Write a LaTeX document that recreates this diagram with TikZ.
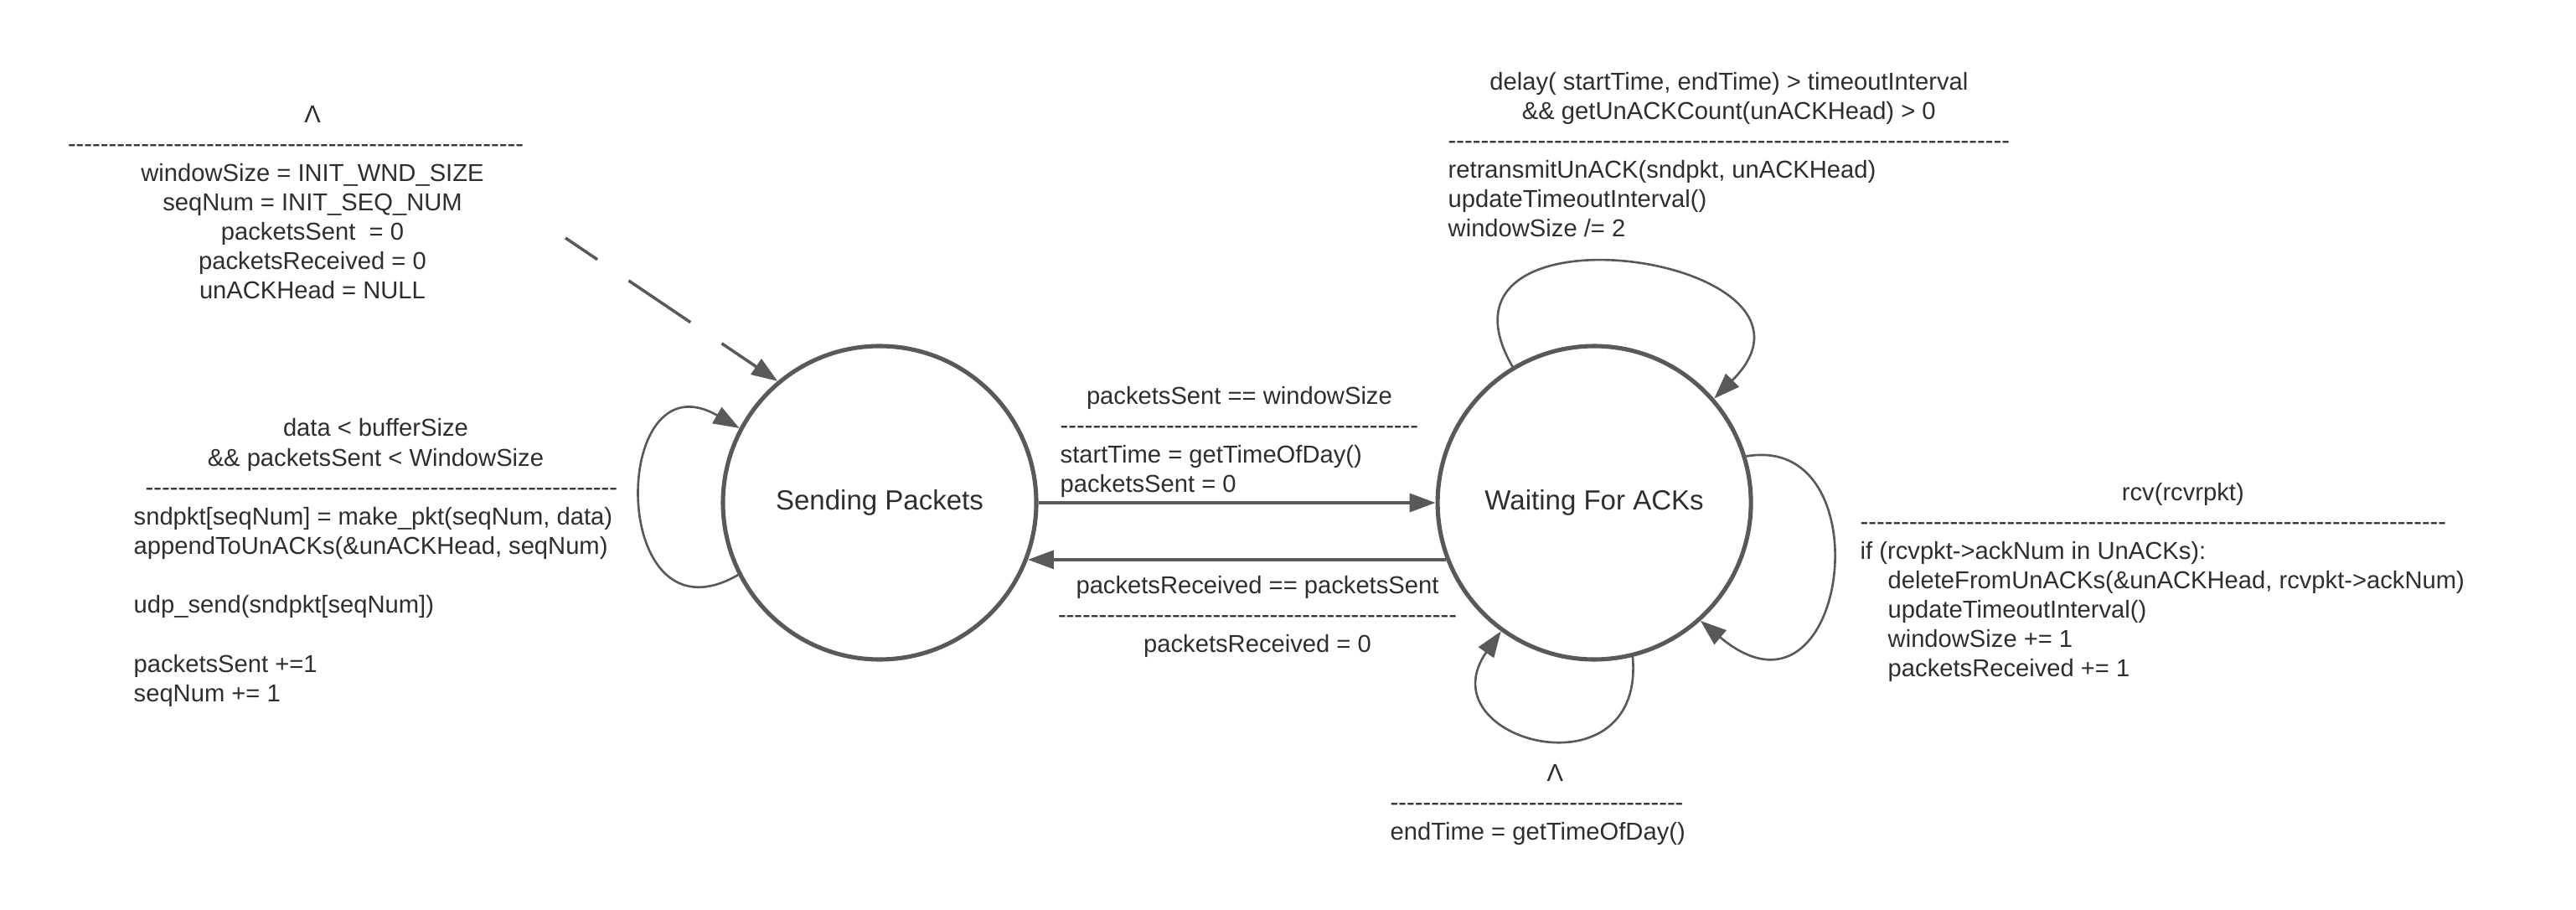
\documentclass[tikz,border=0pt]{standalone}
\usepackage{fontspec}
\setmainfont{Liberation Sans}
\usepackage{tikz}
\usetikzlibrary{positioning,arrows.meta}

\definecolor{linegray}{HTML}{595959}
\definecolor{textgray}{HTML}{2E2E2E}

\newcommand{\dashrow}[1]{\foreach \k in {1,...,#1}{-}}
\newcommand{\headcell}[1]{\multicolumn{1}{@{}c@{}}{#1}}

\tikzset{
	state/.style={circle,draw=linegray,line width=1.45pt,minimum size=3.74cm,inner sep=0pt,text=textgray,font=\fontsize{9.4}{11}\selectfont},
	lbl/.style={inner sep=0pt,text=textgray,font=\fontsize{8.3}{10}\selectfont},
	trans/.style={draw=linegray,line width=1pt,-{Triangle[length=0.31cm,width=0.22cm]}},
	initarrow/.style={trans,dash pattern=on 0.89cm off 0.45cm,dash phase=0.43cm},
	selfloop/.style={trans,line width=0.75pt},
}

\begin{document}
\begin{tikzpicture}
		\useasboundingbox (0,0) rectangle (30.75,-10.86);
		\node[state] (send) at (10.50,-6.00) {Sending Packets};
		\node[state,right=4.74cm of send] (wait) {Waiting For ACKs};
		\coordinate (start) at (6.75,-2.84);
		
		\node[lbl] (init) at (3.73,-2.445) {\begin{tabular}{@{}c@{}}Λ\\ \dashrow{56}\hspace*{0.4cm}\\ windowSize = INIT\_WND\_SIZE\\ seqNum = INIT\_SEQ\_NUM\\ packetsSent\ \ = 0\\ packetsReceived = 0\\ unACKHead = NULL\end{tabular}};
		\node[lbl,anchor=west] (sloop) at (1.59,-6.72) {\begin{tabular}{@{}l@{}}\headcell{data < bufferSize}\\ \headcell{\&\& packetsSent < WindowSize}\\ \hspace*{0.14cm}\dashrow{58}\\ sndpkt[seqNum] = make\_pkt(seqNum, data)\\ appendToUnACKs(\&unACKHead, seqNum)\\ \\ udp\_send(sndpkt[seqNum])\\ \\ packetsSent +=1\\ seqNum += 1\end{tabular}};
		\node[lbl,anchor=west] (swlbl) at (12.65,-5.28) {\begin{tabular}{@{}l@{}}\headcell{packetsSent == windowSize}\\ \dashrow{44}\\ startTime = getTimeOfDay()\\ packetsSent = 0\end{tabular}};
		\node[lbl] (wslbl) at (15.01,-7.365) {\begin{tabular}{@{}c@{}}packetsReceived == packetsSent\\ \dashrow{49}\\ packetsReceived = 0\end{tabular}};
		\node[lbl,anchor=west] (wtop) at (17.28,-1.88) {\begin{tabular}{@{}l@{}}\headcell{delay( startTime, endTime) > timeoutInterval}\\ \headcell{\&\& getUnACKCount(unACKHead) > 0}\\ \dashrow{69}\\ retransmitUnACK(sndpkt, unACKHead)\\ updateTimeoutInterval()\\ windowSize /= 2\end{tabular}};
		\node[lbl,anchor=west] (rcvlbl) at (22.20,-6.955) {\begin{tabular}{@{}l@{}}\headcell{\hspace*{0.49cm}rcv(rcvrpkt)}\\ \dashrow{72}\\ if (rcvpkt->ackNum in UnACKs):\\ \hspace*{0.33cm}deleteFromUnACKs(\&unACKHead, rcvpkt->ackNum)\\ \hspace*{0.33cm}updateTimeoutInterval()\\ \hspace*{0.33cm}windowSize += 1\\ \hspace*{0.33cm}packetsReceived += 1\end{tabular}};
		\node[lbl,anchor=west] (botlbl) at (16.59,-9.605) {\begin{tabular}{@{}l@{}}\headcell{\hspace*{0.41cm}Λ}\\ \dashrow{36}\\ endTime = getTimeOfDay()\end{tabular}};
		
		\draw[initarrow] (start) -- (send.130);
		\draw[trans] (send.east) -- (wait.west);
		\draw[trans] (wait.201.7) -- (send.-21.7);
		\draw[selfloop] (send.207) .. controls +(210:1.8) and +(150:1.8) .. (send.152);
		\draw[selfloop] (wait.121) .. controls +(120:2.4) and +(45:2.4) .. (wait.41);
		\draw[selfloop] (wait.17) .. controls +(10:1.7) and +(-40:2.3) .. (wait.-48);
		\draw[selfloop] (wait.-76) .. controls +(-85:1.7) and +(235:1.6) .. (wait.-126);
	\end{tikzpicture}
\end{document}
